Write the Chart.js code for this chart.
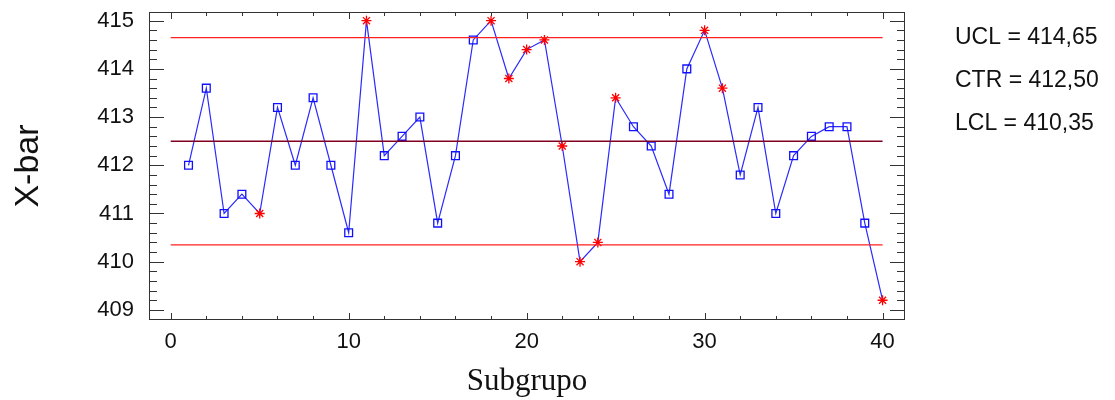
<!DOCTYPE html>
<html>
<head>
<meta charset="utf-8">
<script src="https://cdn.jsdelivr.net/npm/chart.js@4.4.0/dist/chart.umd.min.js"></script>
<style>
  html, body { margin: 0; padding: 0; background: #fff; }
</style>
</head>
<body>
<canvas id="xbarChart" width="1115" height="400"></canvas>
<script>
// Subgroup averages
const subgroups = [1, 2, 3, 4, 5, 6, 7, 8, 9, 10, 11, 12, 13, 14, 15, 16, 17, 18, 19, 20,
                   21, 22, 23, 24, 25, 26, 27, 28, 29, 30, 31, 32, 33, 34, 35, 36, 37, 38, 39, 40];
const xbar = [412.0, 413.6, 411.0, 411.4, 411.0, 413.2, 412.0, 413.4, 412.0, 410.6,
              415.0, 412.2, 412.6, 413.0, 410.8, 412.2, 414.6, 415.0, 413.8, 414.4,
              414.6, 412.4, 410.0, 410.4, 413.4, 412.8, 412.4, 411.4, 414.0, 414.8,
              413.6, 411.8, 413.2, 411.0, 412.2, 412.6, 412.8, 412.8, 410.8, 409.2];
// subgroups marked with a red star
const flagged = [5, 11, 18, 19, 20, 21, 22, 23, 24, 25, 30, 31, 40];

// control limits
const ucl = 414.65;
const ctr = 412.50;
const lcl = 410.35;
const limitSpan = [0, 40];
const limitLabels = ['UCL = 414,65', 'CTR = 412,50', 'LCL = 410,35'];

const xTicks = [0, 10, 20, 30, 40];
const yTicks = [409, 410, 411, 412, 413, 414, 415];

const isFlagged = subgroups.map(s => flagged.includes(s));

function limitLine(value) {
    return limitSpan.map(s => ({ x: s, y: value }));
}

// Frame, inward tick marks and the limit values on the right
const frameTicks = {
    id: 'frameTicks',
    afterDraw(chart) {
        const { ctx, chartArea: a, scales: { x, y } } = chart;
        ctx.save();
        ctx.strokeStyle = '#333';
        ctx.lineWidth = 1;
        ctx.strokeRect(a.left + 0.5, a.top + 0.5, a.right - a.left - 1, a.bottom - a.top - 1);

        ctx.beginPath();
        // left / right ticks every 0.2
        for (let i = yTicks[0] * 5; i <= yTicks[yTicks.length - 1] * 5; i++) {
            const py = Math.round(y.getPixelForValue(i / 5)) + 0.5;
            const len = i % 5 === 0 ? 15 : 8;
            ctx.moveTo(a.left, py); ctx.lineTo(a.left + len, py);
            ctx.moveTo(a.right, py); ctx.lineTo(a.right - len, py);
        }
        // top / bottom ticks every 2
        for (let s = xTicks[0]; s <= xTicks[xTicks.length - 1]; s += 2) {
            const px = Math.round(x.getPixelForValue(s)) + 0.5;
            const len = s % 10 === 0 ? 7 : 4;
            ctx.moveTo(px, a.bottom); ctx.lineTo(px, a.bottom - len);
            ctx.moveTo(px, a.top); ctx.lineTo(px, a.top + len);
        }
        ctx.stroke();

        ctx.fillStyle = '#111';
        ctx.font = '23px "Liberation Sans", Arial, sans-serif';
        ctx.textBaseline = 'alphabetic';
        ctx.textAlign = 'left';
        limitLabels.forEach((t, i) => {
            ctx.fillText(t, 955, 44 + i * 43);
        });
        ctx.restore();
    }
};

const ctx = document.getElementById('xbarChart').getContext('2d');
new Chart(ctx, {
    type: 'line',
    data: {
        datasets: [
            {
                data: limitLine(ucl),
                borderColor: '#ff2020',
                borderWidth: 1.2,
                pointRadius: 0,
            },
            {
                data: limitLine(ctr),
                borderColor: '#800020',
                borderWidth: 1.5,
                pointRadius: 0,
            },
            {
                data: limitLine(lcl),
                borderColor: '#ff2020',
                borderWidth: 1.2,
                pointRadius: 0,
            },
            {
                data: subgroups.map((s, i) => ({ x: s, y: xbar[i] })),
                borderColor: '#2a2aff',
                borderWidth: 1.2,
                tension: 0,
                pointStyle: isFlagged.map(f => f ? 'star' : 'rect'),
                pointRadius: isFlagged.map(f => f ? 5 : 5.5),
                pointBorderColor: isFlagged.map(f => f ? '#ff0000' : '#1010ff'),
                pointBackgroundColor: 'rgba(0,0,0,0)',
                pointBorderWidth: 1.3,
            },
        ],
    },
    options: {
        responsive: false,
        animation: false,
        layout: {
            padding: { left: 0, right: 210, top: 12, bottom: 0 },
        },
        plugins: {
            legend: { display: false },
            tooltip: { enabled: false },
        },
        scales: {
            x: {
                type: 'linear',
                min: -1.22,
                max: 41.26,
                afterBuildTicks: (axis) => { axis.ticks = xTicks.map(v => ({ value: v })); },
                afterFit: (axis) => {
                    axis.height = 80;
                    axis.paddingLeft = 0;
                    axis.paddingRight = 0;
                },
                grid: { display: false, drawTicks: false },
                border: { display: false },
                ticks: {
                    color: '#111',
                    padding: 9,
                    font: { family: '"Liberation Sans", Arial, sans-serif', size: 22 },
                },
                title: {
                    display: true,
                    text: 'Subgrupo',
                    color: '#111',
                    padding: 0,
                    font: { family: '"Liberation Serif", "Times New Roman", serif', size: 31 },
                },
            },
            y: {
                min: 408.79,
                max: 415.18,
                afterBuildTicks: (axis) => { axis.ticks = yTicks.map(v => ({ value: v })); },
                afterFit: (axis) => {
                    axis.width = 149;
                    axis.paddingTop = 0;
                    axis.paddingBottom = 0;
                },
                grid: { display: false, drawTicks: false },
                border: { display: false },
                ticks: {
                    color: '#111',
                    padding: 15,
                    font: { family: '"Liberation Sans", Arial, sans-serif', size: 22 },
                },
                title: {
                    display: true,
                    text: 'X-bar',
                    color: '#111',
                    padding: { top: 8, bottom: 0 },
                    font: { family: '"Liberation Sans", Arial, sans-serif', size: 34 },
                },
            },
        },
    },
    plugins: [frameTicks],
});
</script>
</body>
</html>
